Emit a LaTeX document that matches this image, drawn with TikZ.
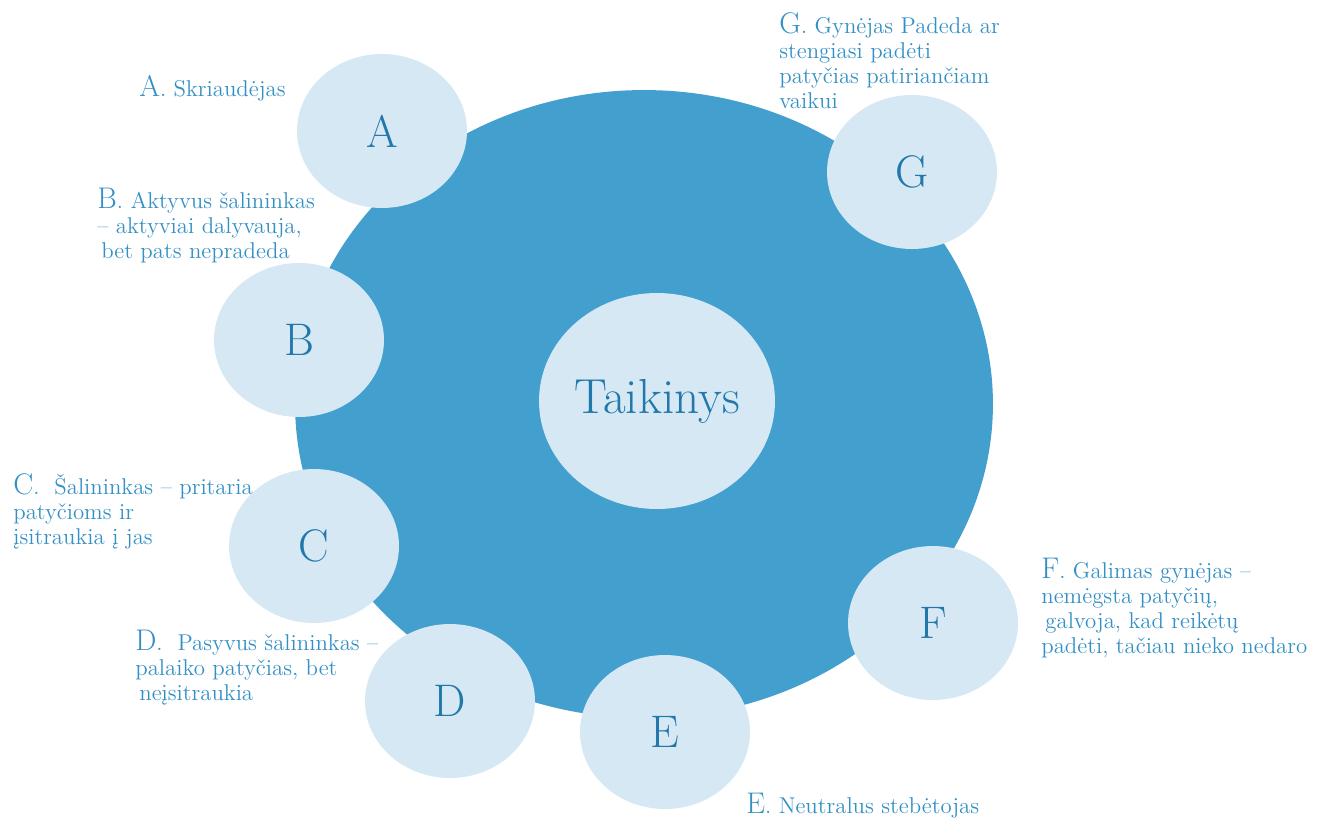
\documentclass[tikz,border=0pt]{standalone}
\usepackage{tikz}
\usetikzlibrary{shapes.geometric}
\usepackage{xcolor}
\definecolor{ringblue}{HTML}{429FCE}
\definecolor{paleblue}{HTML}{D5E8F4}
\definecolor{letterblue}{HTML}{2278AB}
\definecolor{textblue}{HTML}{3390C4}
\newcommand{\lead}[1]{{\fontsize{17}{14.2}\selectfont #1}}

\begin{document}
\begin{tikzpicture}[x=0.02cm,y=-0.02cm,
	role/.style={ellipse,fill=paleblue,text=letterblue,inner sep=0pt,
		minimum width=3.4cm,minimum height=3.08cm,font=\fontsize{26}{26}\selectfont},
	legend/.style={anchor=north west,align=left,inner sep=0pt,text=textblue,
		font=\fontsize{13}{14.2}\selectfont}]
			\useasboundingbox (0,0) rectangle (1317,818);
			\node[ellipse,fill=ringblue,minimum width=13.96cm,minimum height=12.56cm] (ring) at (644,404) {};
			\node[ellipse,fill=paleblue,text=letterblue,inner sep=0pt,minimum width=4.72cm,minimum height=4.32cm,
				font=\fontsize{28}{28}\selectfont] (target) at (657,401) {Taikinys};
			\foreach \Nom/\X/\Y in {A/382/131,B/299/340,C/314/546,D/450/701,E/665/732,F/933/623,G/912/172}
				\node[role] (\Nom) at (\X,\Y) {\Nom};
			\node[legend] (labA) at (139,75) {\lead{A}. Skriaudėjas};
			\node[legend] (labB) at (97,188) {\lead{B}. Aktyvus šalininkas\\– aktyviai dalyvauja,\\\hspace{0.08cm}bet pats nepradeda};
			\node[legend] (labC) at (13,473) {\lead{C}.\ \ Šalininkas – pritaria\\patyčioms ir\\įsitraukia į jas};
			\node[legend] (labD) at (135,630) {\lead{D}.\ \ Pasyvus šalininkas –\\palaiko patyčias, bet\\\hspace{0.08cm}neįsitraukia};
			\node[legend] (labE) at (746,793) {\lead{E}. Neutralus stebėtojas};
			\node[legend] (labF) at (1041,558) {\lead{F}. Galimas gynėjas –\\nemėgsta patyčių,\\\hspace{0.08cm}galvoja, kad reikėtų\\padėti, tačiau nieko nedaro};
			\node[legend] (labG) at (779,12) {\lead{G}. Gynėjas Padeda ar\\stengiasi padėti\\patyčias patiriančiam\\vaikui};
		\end{tikzpicture}
\end{document}
